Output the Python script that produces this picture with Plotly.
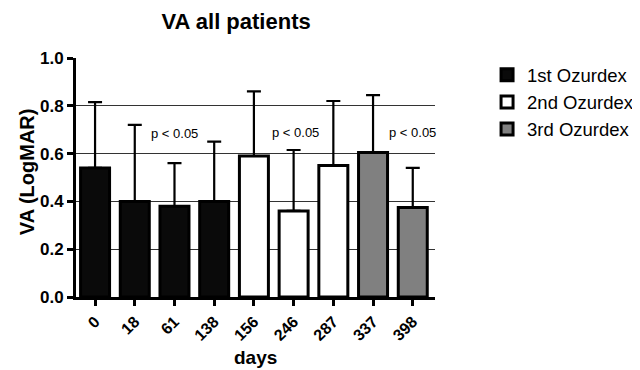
import plotly.graph_objects as go

days = ["0", "18", "61", "138", "156", "246", "287", "337", "398"]
va_mean = [0.54, 0.40, 0.38, 0.40, 0.59, 0.36, 0.55, 0.605, 0.375]
va_sd = [0.275, 0.32, 0.18, 0.25, 0.27, 0.255, 0.27, 0.24, 0.165]
group = ["1st Ozurdex"] * 4 + ["2nd Ozurdex"] * 3 + ["3rd Ozurdex"] * 2
group_names = ["1st Ozurdex", "2nd Ozurdex", "3rd Ozurdex"]
group_colors = ["#0a0a0a", "#ffffff", "#808080"]
p_labels = ["p < 0.05", "p < 0.05", "p < 0.05"]
p_x = [2.0, 5.05, 8.0]
p_y = [0.685, 0.69, 0.69]

fig = go.Figure()
for name, col in zip(group_names, group_colors):
    idx = [i for i, g in enumerate(group) if g == name]
    fig.add_trace(go.Bar(
        x=idx, y=[va_mean[i] for i in idx], name=name,
        width=0.73,
        marker=dict(color=col, line=dict(color="black", width=3)),
        error_y=dict(type="data", symmetric=False,
                     array=[va_sd[i] for i in idx],
                     arrayminus=[0] * len(idx),
                     color="black", thickness=2.2, width=7),
    ))

for t, x, y in zip(p_labels, p_x, p_y):
    fig.add_annotation(x=x, y=y, text=t, showarrow=False,
                       font=dict(size=13, color="black", family="Arial"))

fig.add_annotation(xref="paper", yref="paper", x=-0.136, y=0.523,
                   xanchor="center", yanchor="middle",
                   text="<b>VA (LogMAR)</b>", textangle=-90, showarrow=False,
                   font=dict(size=20, color="black", family="Arial"))
fig.add_annotation(xref="paper", yref="paper", x=0.499, y=-0.255,
                   xanchor="center", yanchor="middle",
                   text="<b>days</b>", showarrow=False,
                   font=dict(size=19, color="black", family="Arial"))

fig.update_layout(
    width=632, height=362,
    margin=dict(l=68, r=205, t=50, b=73, autoexpand=False),
    paper_bgcolor="white", plot_bgcolor="white",
    font=dict(family="Arial", color="black"),
    title=dict(text="<b>VA all patients</b>", x=0.361, xanchor="center",
               xref="container", y=0.962, yanchor="middle", font=dict(size=22)),
    showlegend=True,
    legend=dict(x=1.145, y=1.007, xanchor="left", yanchor="top",
                font=dict(size=18.5), tracegroupgap=3),
    bargap=0.27,
)
fig.update_xaxes(
    automargin=False,
    range=[-0.48, 8.56], tickmode="array", tickvals=list(range(len(days))),
    ticktext=["<b>%s</b>" % d for d in days], tickangle=-45,
    tickfont=dict(size=16), ticks="outside", ticklen=6, tickwidth=2.5,
    tickcolor="black", showline=True, linecolor="black", linewidth=3,
    showgrid=False, zeroline=False,
)
fig.update_yaxes(
    automargin=False,
    range=[0, 1.0], tickvals=[0, 0.2, 0.4, 0.6, 0.8, 1.0],
    ticktext=["<b>0.0</b>", "<b>0.2</b>", "<b>0.4</b>", "<b>0.6</b>", "<b>0.8</b>", "<b>1.0</b>"],
    tickfont=dict(size=17), ticks="outside", ticklen=6, tickwidth=2.5,
    tickcolor="black", showline=True, linecolor="black", linewidth=3,
    showgrid=True, gridcolor="#333333", gridwidth=1, zeroline=False,
)

fig.write_html("out.html")
